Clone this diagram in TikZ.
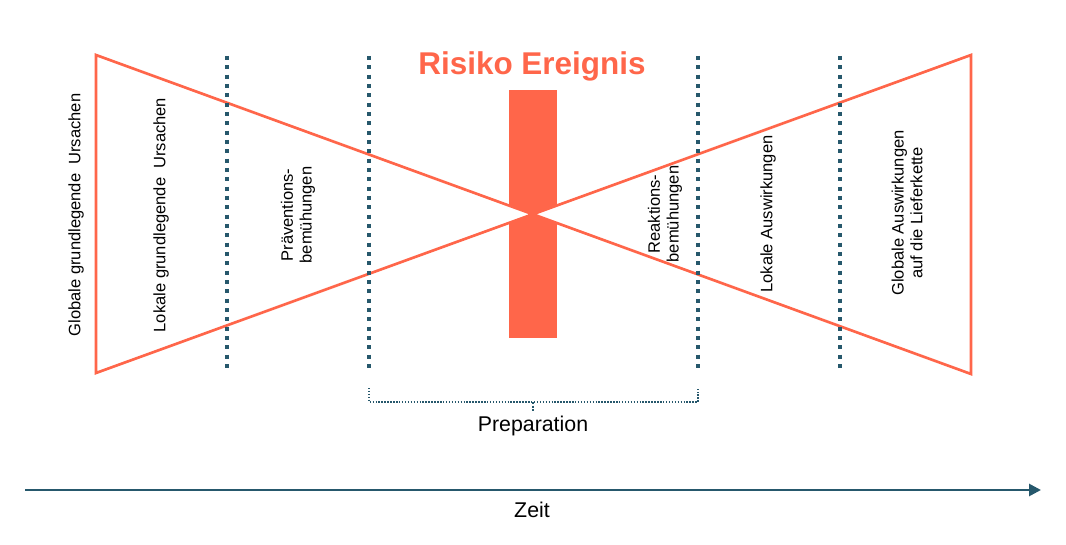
\documentclass[tikz,border=0pt]{standalone}
\usepackage{fontspec}
\setmainfont{Liberation Sans}
\usetikzlibrary{arrows.meta}
\definecolor{rred}{RGB}{255,102,74}
\definecolor{teal2}{RGB}{38,88,108}
\tikzset{
  bow/.style={draw=rred,fill=white,line width=2pt,line join=miter},
  sep/.style={draw=teal2,line width=3.3pt,dash pattern=on 3pt off 4pt},
  brk/.style={draw=teal2,line width=1.3pt,dash pattern=on 1.1pt off 1.1pt},
  vlabel/.style={rotate=90,align=center,font=\fontsize{12.4}{14}\selectfont,inner sep=0pt},
}
\begin{document}
\begin{tikzpicture}[x=0.75pt,y=-0.75pt]
\useasboundingbox (0,0) rectangle (1066,545);
% bowtie
\coordinate (tl) at (96,55);
\coordinate (bl) at (96,373);
\coordinate (tr) at (971,55);
\coordinate (br) at (971,374);
\fill[rred] (509,90) rectangle (557,338);
\draw[bow] (tl) -- (br) -- (tr) -- (bl) -- cycle;
\node[font=\bfseries\fontsize{23.6}{28}\selectfont,text=rred] (title) at (532,66) {Risiko Ereignis};
% separators
\foreach \x/\n in {227/s1,369/s2,698/s3,840/s4}{
  \coordinate (\n t) at (\x,56);
  \coordinate (\n b) at (\x,371);
  \draw[sep] (\n t) -- (\n b);
}
% labels
\node[vlabel] (g1) at (76,215) {Globale grundlegende\ \ Ursachen};
\node[vlabel] (l1) at (161,215) {Lokale grundlegende\ \ Ursachen};
\node[vlabel] (pr) at (298,215) {Präventions-\\bemühungen};
\node[vlabel] (re) at (665,214) {Reaktions-\\bemühungen};
\node[vlabel] (la) at (768,214) {Lokale Auswirkungen};
\node[vlabel] (ga) at (907,213) {Globale Auswirkungen\\auf die Lieferkette};
% bracket
\coordinate (b1) at (369,388);
\coordinate (b2) at (369,402);
\coordinate (b3) at (698,402);
\coordinate (b4) at (698,388);
\coordinate (bm) at (533,402);
\coordinate (bt) at (533,412);
\draw[brk] (b1) -- (b2) -- (b3) -- (b4);
\draw[brk,line width=2pt,dash pattern=on 1.5pt off 1.2pt] (bm) -- (bt);
\node[font=\fontsize{16}{19}\selectfont] (prep) at (533,426) {Preparation};
% time axis
\coordinate (a0) at (25,490);
\coordinate (a1) at (1041,490);
\draw[teal2,line width=2pt,-{Triangle[length=9pt,width=9pt]}] (a0) -- (a1);
\node[font=\fontsize{16}{19}\selectfont] (zeit) at (532,510) {Zeit};
\end{tikzpicture}
\end{document}
